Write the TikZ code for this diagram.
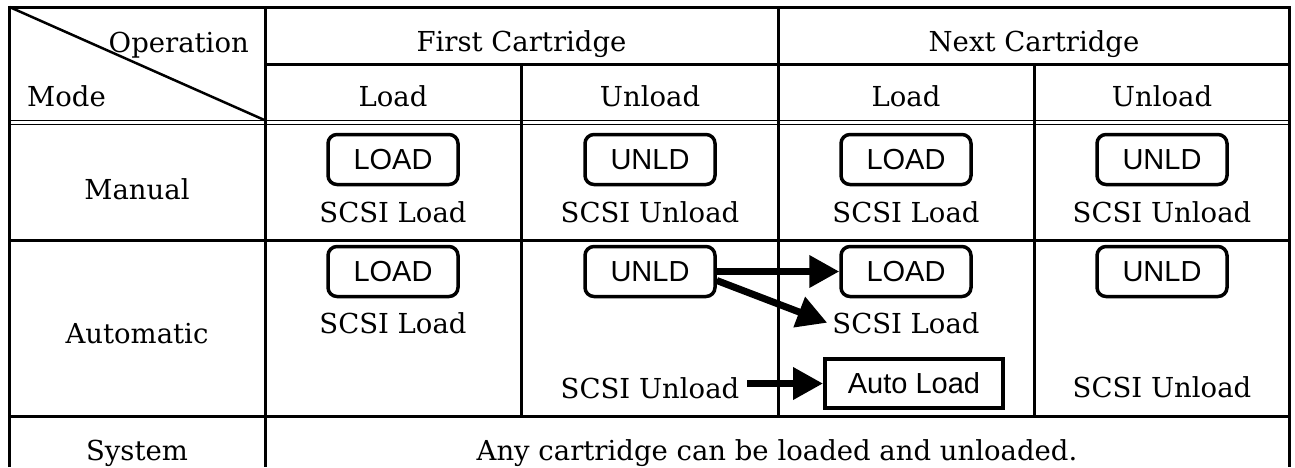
\documentclass[tikz,border=0pt]{standalone}
\usepackage{fontspec}
\setmainfont{DejaVu Serif}
\newfontfamily\btnfont{Liberation Sans}
\usetikzlibrary{arrows.meta}
\begin{document}
\begin{tikzpicture}[x=1pt,y=-1pt,
  grid/.style={line width=3pt},
  thin2/.style={line width=1.3pt},
  txt/.style={font=\fontsize{27.5}{30}\selectfont, inner sep=0pt, anchor=base},
  btn/.style={draw, line width=3.5pt, rounded corners=9pt, minimum width=130pt, minimum height=50pt, inner sep=0pt, font=\btnfont\fontsize{29}{30}\selectfont},
  autobox/.style={draw, line width=4pt, minimum width=178pt, minimum height=49pt, inner sep=0pt, font=\btnfont\fontsize{29}{30}\selectfont},
  arr/.style={line width=7pt, -{Triangle[length=30pt,width=31pt]}}
]
\useasboundingbox (0,0) rectangle (1295,467);
\fill[white] (0,0) rectangle (1295,467);
% grid
\draw[grid] (9.5,467) -- (9.5,7) -- (1289.5,7) -- (1289.5,467);
\draw[grid] (265.5,7) -- (265.5,467);
\draw[grid] (778.5,7) -- (778.5,416);
\draw[grid] (521.5,64) -- (521.5,416);
\draw[grid] (1034.5,64) -- (1034.5,416);
\draw[grid] (265.5,64) -- (1289.5,64);
\draw[thin2] (9.5,120.5) -- (1289.5,120.5);
\draw[thin2] (9.5,124.5) -- (1289.5,124.5);
\draw[grid] (9.5,240.5) -- (1289.5,240.5);
\draw[grid] (9.5,416) -- (1289.5,416);
\draw[line width=2.5pt] (9.5,7) -- (265.5,120.5);
% headers
\node[txt, anchor=base east] (op) at (249,52) {Operation};
\node[txt, anchor=base west] (mode) at (27,106) {Mode};
\node[txt] (fc) at (521.5,51) {First Cartridge};
\node[txt] (nc) at (1034,51) {Next Cartridge};
\node[txt] (h1) at (393,106) {Load};
\node[txt] (h2) at (650,106) {Unload};
\node[txt] (h3) at (906,106) {Load};
\node[txt] (h4) at (1162,106) {Unload};
% row labels
\node[txt] (manual) at (137,199) {Manual};
\node[txt] (auto) at (137,343) {Automatic};
\node[txt] (sys) at (137,460) {System};
\node[txt] (any) at (777,460) {Any cartridge can be loaded and unloaded.};
% manual row
\node[btn] (ml2) at (393,159.5) {LOAD};
\node[btn] (mu3) at (650,159.5) {UNLD};
\node[btn] (ml4) at (906,159.5) {LOAD};
\node[btn] (mu5) at (1162,159.5) {UNLD};
\node[txt] (ms2) at (393,222) {SCSI Load};
\node[txt] (ms3) at (650,222) {SCSI Unload};
\node[txt] (ms4) at (906,222) {SCSI Load};
\node[txt] (ms5) at (1162,222) {SCSI Unload};
% automatic row
\node[btn] (al2) at (393,271.5) {LOAD};
\node[btn] (au3) at (650,271.5) {UNLD};
\node[btn] (al4) at (906,271.5) {LOAD};
\node[btn] (au5) at (1162,271.5) {UNLD};
\node[txt] (as2) at (393,333) {SCSI Load};
\node[txt, inner sep=5pt] (as4) at (906,333) {SCSI Load};
\node[txt, inner sep=8pt] (as3) at (650,398) {SCSI Unload};
\node[txt] (as5) at (1162,397) {SCSI Unload};
\node[autobox] (al) at (914,383.5) {Auto Load};
% arrows
\draw[arr] (au3.east) -- (al4.west);
\draw[arr] ([yshift=-9pt]au3.east) -- (as4.west);
\draw[arr] (as3.east |- al.west) -- (al.west);
\end{tikzpicture}
\end{document}
